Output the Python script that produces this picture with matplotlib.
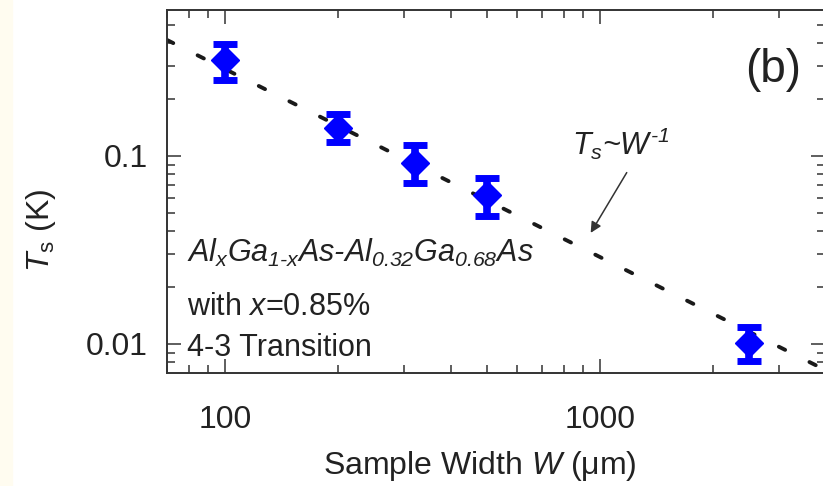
import matplotlib
matplotlib.use('Agg')
import matplotlib.pyplot as plt
from matplotlib.patches import Rectangle
from matplotlib.ticker import LogLocator, NullFormatter, FixedLocator, FixedFormatter

plt.rcParams['font.family'] = ['Liberation Sans', 'DejaVu Sans']
plt.rcParams['mathtext.fontset'] = 'custom'
plt.rcParams['mathtext.it'] = 'Liberation Sans:italic'
plt.rcParams['mathtext.rm'] = 'Liberation Sans:italic'
plt.rcParams['mathtext.sf'] = 'Liberation Sans'

# datos
ancho_um = [100, 200, 320, 500, 2500]
ts_k = [0.322, 0.1406, 0.0915, 0.0622, 0.0101]
ts_arriba = [0.394, 0.1668, 0.1143, 0.0767, 0.0123]
ts_abajo = [0.2545, 0.1186, 0.0717, 0.0482, 0.00816]

# recta guia Ts ~ W^-1 (extremos)
guia_w = [70, 4000]
guia_t = [0.414, 0.00725]

xticks_val = [100, 1000]
xticks_txt = ['100', '1000']
yticks_val = [0.01, 0.1]
yticks_txt = ['0.01', '0.1']

color_texto = '#222222'
color_eje = '#333333'

fig = plt.figure(figsize=(8.23, 4.86), dpi=100)
fig.patches.append(Rectangle((0, 0), 12 / 823, 1, transform=fig.transFigure,
                             color='#fffcf0', zorder=-1))
ax = fig.add_axes([167 / 823, 1 - 373 / 486, 658 / 823, 362.5 / 486])

ax.set_xscale('log')
ax.set_yscale('log')
ax.set_xlim(70, 3980)
ax.set_ylim(0.00701, 0.594)

# linea punteada
ax.plot(guia_w, guia_t, color='#1a1a1a', lw=2.8, linestyle=(0, (1.8, 7.0)),
        dash_capstyle='round', zorder=2)

# puntos con barras de error
err_inf = [t - b for t, b in zip(ts_k, ts_abajo)]
err_sup = [a - t for t, a in zip(ts_k, ts_arriba)]
ax.errorbar(ancho_um, ts_k, yerr=[err_inf, err_sup], fmt='D', color='#0000ff',
            ms=14, elinewidth=5.5, capsize=8.5, capthick=5, zorder=3)

# ejes y ticks
for lado in ['left', 'right', 'top', 'bottom']:
    ax.spines[lado].set_linewidth(1.4)
    ax.spines[lado].set_color(color_eje)
ax.xaxis.set_major_locator(FixedLocator(xticks_val))
ax.xaxis.set_major_formatter(FixedFormatter(xticks_txt))
ax.yaxis.set_major_locator(FixedLocator(yticks_val))
ax.yaxis.set_major_formatter(FixedFormatter(yticks_txt))
ax.xaxis.set_minor_locator(LogLocator(base=10, subs=range(2, 10)))
ax.yaxis.set_minor_locator(LogLocator(base=10, subs=range(2, 10)))
ax.xaxis.set_minor_formatter(NullFormatter())
ax.yaxis.set_minor_formatter(NullFormatter())
ax.tick_params(which='both', direction='in', top=True, right=True,
               color=color_eje, width=1.1, labelsize=23, labelcolor=color_texto)
ax.tick_params(which='major', length=10)
ax.tick_params(which='minor', length=5.5)
ax.tick_params(axis='x', pad=23)
ax.tick_params(axis='y', pad=14)

ax.set_xlabel(r'Sample Width $W$ ($\mathsf{\mu}$m)', fontsize=23, color=color_texto)
ax.xaxis.set_label_coords(0.476, -0.21)
ax.set_ylabel(r'$T_\mathsf{s}$ (K)', fontsize=23, color=color_texto)
ax.yaxis.set_label_coords(-0.166, 0.394)

# textos
ax.text(0.921, 0.836, '(b)', transform=ax.transAxes, fontsize=33,
        ha='center', va='center', color=color_texto)
ax.text(0.0304, 0.306, r'$Al_xGa_{1\text{-}x}As\text{-}Al_{0.32}Ga_{0.68}As$',
        transform=ax.transAxes, fontsize=22, va='baseline', color=color_texto)
ax.text(0.0304, 0.16, r'with $x$=0.85%', transform=ax.transAxes, fontsize=22,
        va='baseline', color=color_texto)
ax.text(0.0304, 0.0469, '4-3 Transition', transform=ax.transAxes, fontsize=22,
        va='baseline', color=color_texto)

ax.text(842, 0.101, r'$T_s$~$W^{\text{-}1}$', fontsize=22, style='italic',
        va='baseline', color=color_texto)
ax.annotate('', xy=(944, 0.039), xytext=(1178, 0.0816),
            arrowprops=dict(arrowstyle='-|>', color='#333333', lw=1.1,
                            mutation_scale=16, shrinkA=0, shrinkB=0))

fig.savefig('out.png', dpi=100)
